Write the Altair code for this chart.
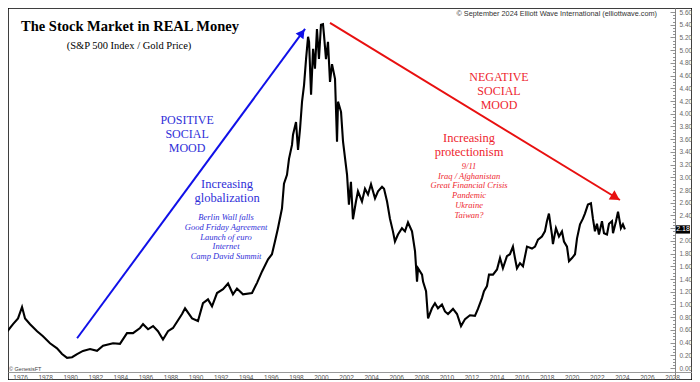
import altair as alt
import pandas as pd

# ---------------- data ----------------
YEARS = [
    1974.64, 1974.80, 1975.44, 1975.84, 1976.16, 1976.40, 1976.80, 1977.36, 1977.83, 1978.39,
    1978.95, 1979.35, 1979.75, 1980.15, 1980.55, 1981.02, 1981.58, 1982.14, 1982.62, 1983.42,
    1983.97, 1984.53, 1985.01, 1985.57, 1985.81, 1986.21, 1986.61, 1987.00, 1987.40, 1987.80,
    1988.20, 1988.92, 1989.16, 1989.72, 1990.19, 1990.59, 1990.99, 1991.31, 1991.71, 1992.19,
    1992.59, 1992.98, 1993.30, 1993.78, 1994.50, 1994.90, 1995.30, 1995.78, 1996.09, 1996.33,
    1996.57, 1996.89, 1997.05, 1997.29, 1997.45, 1997.69, 1997.77, 1998.01, 1998.17, 1998.33,
    1998.49, 1998.65, 1998.81, 1998.97, 1999.05, 1999.21, 1999.37, 1999.52, 1999.68, 1999.84,
    2000.00, 2000.16, 2000.24, 2000.40, 2000.56, 2000.72, 2000.88, 2001.12, 2001.28, 2001.36,
    2001.60, 2001.76, 2002.08, 2002.23, 2002.39, 2002.55, 2002.79, 2002.95, 2003.27, 2003.51,
    2003.75, 2003.99, 2004.31, 2004.55, 2004.87, 2005.03, 2005.27, 2005.50, 2005.74, 2005.90,
    2006.14, 2006.46, 2006.70, 2006.94, 2007.26, 2007.50, 2007.66, 2007.74, 2008.06, 2008.14,
    2008.38, 2008.54, 2008.85, 2009.09, 2009.33, 2009.65, 2009.89, 2010.13, 2010.53, 2010.85,
    2011.17, 2011.49, 2011.88, 2012.28, 2012.52, 2012.84, 2013.00, 2013.24, 2013.40, 2013.72,
    2014.04, 2014.28, 2014.51, 2014.83, 2015.07, 2015.31, 2015.47, 2015.63, 2015.87, 2016.11,
    2016.43, 2016.83, 2017.07, 2017.31, 2017.62, 2017.86, 2018.02, 2018.18, 2018.42, 2018.50,
    2018.74, 2018.98, 2019.22, 2019.38, 2019.62, 2019.78, 2020.02, 2020.26, 2020.42, 2020.66,
    2020.89, 2021.05, 2021.29, 2021.53, 2021.69, 2021.85, 2022.01, 2022.17, 2022.41, 2022.57,
    2022.81, 2022.97, 2023.21, 2023.29, 2023.53, 2023.69, 2023.92, 2024.08, 2024.24,
]
RATIO = [
    0.38, 0.53, 0.69, 0.78, 0.96, 0.78, 0.69, 0.58, 0.50, 0.39,
    0.31, 0.22, 0.16, 0.17, 0.22, 0.27, 0.30, 0.27, 0.35, 0.39,
    0.38, 0.55, 0.55, 0.63, 0.69, 0.61, 0.66, 0.58, 0.45, 0.58,
    0.63, 0.85, 0.94, 0.78, 0.74, 1.02, 1.08, 0.97, 1.18, 1.24,
    1.33, 1.16, 1.25, 1.16, 1.18, 1.34, 1.52, 1.71, 1.79, 1.99,
    2.20, 2.51, 2.90, 3.04, 3.29, 3.51, 3.67, 3.87, 3.43, 3.76,
    4.19, 4.45, 4.86, 5.21, 5.13, 4.30, 5.02, 4.71, 5.33, 4.86,
    5.40, 5.41, 5.24, 4.86, 5.13, 4.50, 4.78, 4.55, 3.56, 4.19,
    4.03, 3.56, 3.04, 2.57, 2.93, 2.34, 2.62, 2.78, 2.62, 2.82,
    2.73, 2.89, 2.67, 2.78, 2.85, 2.82, 2.62, 2.35, 2.15, 1.99,
    2.10, 2.20, 2.15, 2.29, 2.15, 1.84, 1.36, 1.57, 1.47, 1.36,
    1.21, 0.78, 0.94, 1.02, 0.94, 1.00, 0.89, 0.85, 0.93, 0.85,
    0.66, 0.77, 0.83, 0.82, 0.93, 1.10, 1.21, 1.29, 1.47, 1.47,
    1.55, 1.73, 1.57, 1.76, 1.79, 1.91, 1.73, 1.57, 1.65, 1.60,
    1.91, 1.88, 1.91, 2.02, 2.07, 2.15, 2.31, 2.43, 2.10, 1.95,
    2.20, 2.07, 2.15, 1.99, 1.91, 1.68, 1.73, 1.79, 2.04, 2.26,
    2.35, 2.43, 2.57, 2.59, 2.35, 2.15, 2.27, 2.10, 2.31, 2.12,
    2.10, 2.27, 2.31, 2.12, 2.31, 2.46, 2.20, 2.26, 2.18,
]
LAST_VALUE = "2.18"
X_TICK_YEARS = list(range(1976, 2029, 2))
Y_MAJOR = [round(i * 0.2, 2) for i in range(29)]
Y_LABELS = [v for v in Y_MAJOR if abs(v - 2.2) > 1e-6]
Y_MINOR = [round(i * 0.05, 2) for i in range(113)]

TITLE = "The Stock Market in REAL Money"
SUBTITLE = "(S&P 500 Index  / Gold Price)"
COPYRIGHT = "\u00a9 September 2024 Elliott Wave International (elliottwave.com)"
SOURCE = "\u00a9 GenesisFT"
POS_MOOD = ["POSITIVE", "SOCIAL", "MOOD"]
POS_HEAD = ["Increasing", "globalization"]
POS_EVENTS = ["Berlin Wall falls", "Good Friday Agreement", "Launch of euro",
              "Internet", "Camp David Summit"]
NEG_MOOD = ["NEGATIVE", "SOCIAL", "MOOD"]
NEG_HEAD = ["Increasing", "protectionism"]
NEG_EVENTS = ["9/11", "Iraq / Afghanistan", "Great Financial Crisis",
              "Pandemic", "Ukraine", "Taiwan?"]

# ---------------- layout (data-space anchors) ----------------
XD = [1975.04, 2029.59]
YD = [-0.188, 5.663]
W, H = 684, 372
BLUE_TXT = "#2f2fd8"
BLUE = "#1010e8"
RED_TXT = "#ee1f2f"
RED = "#e81010"

sx = alt.Scale(domain=XD, nice=False, zero=False)
sy = alt.Scale(domain=YD, nice=False, zero=False)

df = pd.DataFrame({"year": YEARS, "ratio": RATIO})

line = alt.Chart(df).mark_line(color="black", strokeWidth=2.1, clip=True,
                               strokeJoin="miter").encode(
    x=alt.X("year:Q", scale=sx, axis=alt.Axis(
        orient="bottom", offset=-8, values=X_TICK_YEARS, format="d", ticks=False,
        labelFontSize=6.5, labelFont="Liberation Sans", labelColor="#555",
        labelPadding=2, domainColor="#999", domainWidth=1, grid=False, title=None,
        labelFlush=False, labelOverlap=False)),
    y=alt.Y("ratio:Q", scale=sy, axis=alt.Axis(
        orient="right", offset=-17, values=Y_LABELS, format=".2f", ticks=False,
        labelAlign="left", labelBaseline="middle", labelPadding=4,
        labelFontSize=6.5, labelFont="Liberation Sans", labelColor="#666",
        domainColor="#888", domainWidth=1, grid=False, title=None,
        labelFlush=False, labelOverlap=False)),
)

tick_test = "abs(datum.value*5 - round(datum.value*5)) < 0.01"
ticks = alt.Chart(df).mark_line(opacity=0).encode(
    x=alt.X("year:Q", scale=sx, axis=None),
    y=alt.Y("ratio:Q", scale=sy, axis=alt.Axis(
        orient="left", offset=-667, values=Y_MINOR, labels=False, domain=False,
        ticks=True, tickColor="#777", tickWidth=0.8,
        tickSize={"condition": {"test": tick_test, "value": 5}, "value": 2.5},
        grid=False, title=None)),
)


def text_layer(labels, xs, ys, **kw):
    d = pd.DataFrame({"t": labels, "x": xs, "y": ys})
    return alt.Chart(d).mark_text(**kw).encode(
        x=alt.X("x:Q", scale=sx, axis=None),
        y=alt.Y("y:Q", scale=sy, axis=None),
        text="t:N",
    )


layers = [line, ticks]

layers.append(text_layer([TITLE], [1984.77], [5.365], font="Liberation Serif",
                         fontSize=14.5, fontWeight="bold", color="black"))
layers.append(text_layer([SUBTITLE], [1984.69], [5.068], font="Liberation Serif",
                         fontSize=10.5, color="black"))
layers.append(text_layer([COPYRIGHT], [2026.80], [5.569], font="Liberation Sans",
                         fontSize=7.3, color="#333", align="right"))
layers.append(text_layer([SOURCE], [1975.12], [-0.02], font="Liberation Sans",
                         fontSize=5.5, color="#444", align="left"))

layers.append(text_layer(POS_MOOD, [1989.32] * 3, [3.895, 3.676, 3.457],
                         font="Liberation Serif", fontSize=12, color=BLUE_TXT))
layers.append(text_layer(POS_HEAD, [1992.51] * 2, [2.894, 2.675],
                         font="Liberation Serif", fontSize=12.5, color=BLUE_TXT))
layers.append(text_layer(POS_EVENTS, [1992.43] * 5, [2.378, 2.221, 2.065, 1.916, 1.768],
                         font="Liberation Serif", fontSize=8.5, fontStyle="italic",
                         color=BLUE_TXT))
layers.append(text_layer(NEG_MOOD, [2014.20] * 3, [4.583, 4.364, 4.145],
                         font="Liberation Serif", fontSize=12, color=RED_TXT))
layers.append(text_layer(NEG_HEAD, [2011.81] * 2, [3.613, 3.394],
                         font="Liberation Serif", fontSize=12.5, color=RED_TXT))
layers.append(text_layer(NEG_EVENTS, [2011.81] * 6,
                         [3.175, 3.019, 2.878, 2.722, 2.565, 2.409],
                         font="Liberation Serif", fontSize=8.5, fontStyle="italic",
                         color=RED_TXT))

# arrows
arrows = pd.DataFrame({
    "x": [1980.55, 2000.72], "x2": [1998.73, 2023.84],
    "y": [0.469, 5.428], "y2": [5.334, 2.643], "c": [BLUE, RED],
})
layers.append(alt.Chart(arrows).mark_rule(strokeWidth=2).encode(
    x=alt.X("x:Q", scale=sx, axis=None), x2="x2:Q",
    y=alt.Y("y:Q", scale=sy, axis=None), y2="y2:Q",
    color=alt.Color("c:N", scale=None),
))
head_b = pd.DataFrame({"x": [1998.49], "y": [5.271]})
head_r = pd.DataFrame({"x": [2023.50], "y": [2.684]})
layers.append(alt.Chart(head_b).mark_point(shape="triangle-up", filled=True, size=95,
                                          angle=36, color=BLUE, opacity=1).encode(
    x=alt.X("x:Q", scale=sx, axis=None), y=alt.Y("y:Q", scale=sy, axis=None)))
layers.append(alt.Chart(head_r).mark_point(shape="triangle-up", filled=True, size=120,
                                          angle=121.5, color=RED, opacity=1).encode(
    x=alt.X("x:Q", scale=sx, axis=None), y=alt.Y("y:Q", scale=sy, axis=None)))

# last value box
box = pd.DataFrame({"x": [2028.31], "x2": [2029.43], "y": [2.245], "y2": [2.115]})
layers.append(alt.Chart(box).mark_rect(color="black").encode(
    x=alt.X("x:Q", scale=sx, axis=None), x2="x2:Q",
    y=alt.Y("y:Q", scale=sy, axis=None), y2="y2:Q"))
layers.append(text_layer([LAST_VALUE], [2028.87], [2.18], font="Liberation Sans",
                         fontSize=7, color="white"))

chart = alt.layer(*layers).resolve_axis(x="independent", y="independent").properties(
    width=W, height=H, padding=0, autosize=alt.AutoSizeParams(type="none"),
).configure_view(stroke="black", strokeWidth=1.5)

chart.save("out.html", embed_options={"renderer": "svg", "actions": False})
